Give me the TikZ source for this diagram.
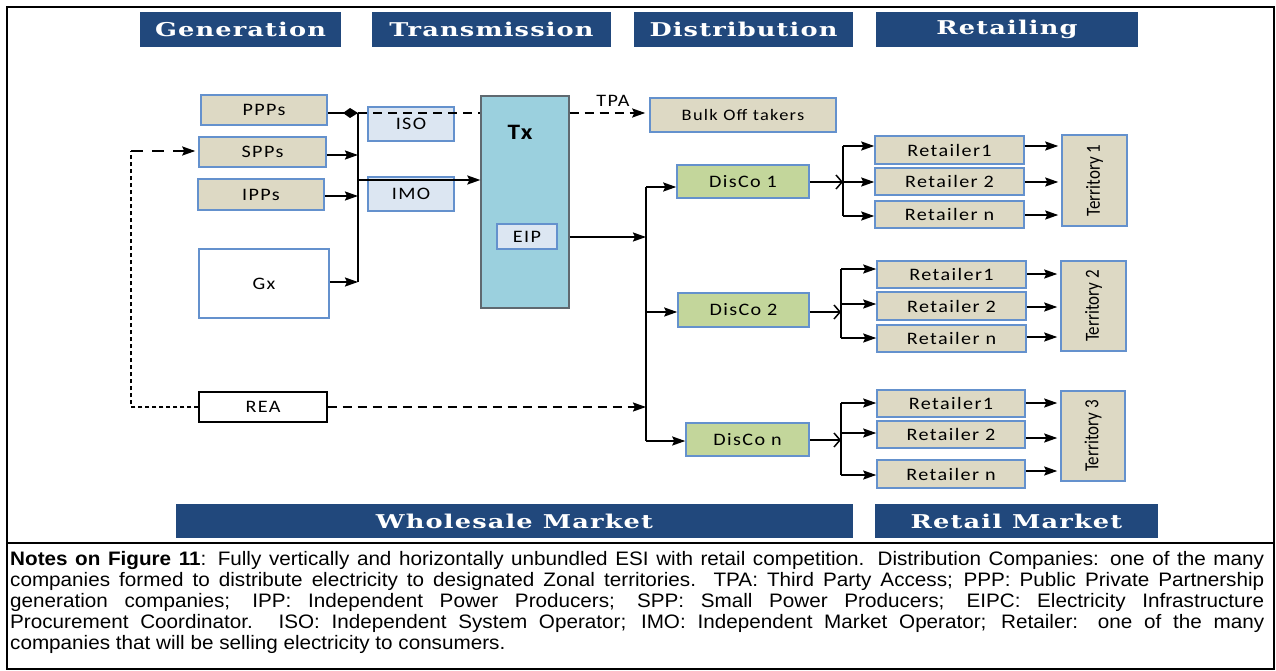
\documentclass[tikz,border=0pt]{standalone}
\usepackage{fontspec}
\usepackage{graphicx}
\usetikzlibrary{arrows.meta}
\newfontfamily\boxfont{Carlito}[FakeStretch=1.15,LetterSpace=8]
\newfontfamily\terrfont{Carlito}[FakeStretch=0.85]
\newfontfamily\headfont{DejaVu Serif}[FakeStretch=1.35,LetterSpace=6]
\newfontfamily\notefont{Liberation Sans}[FakeStretch=1.06]
\definecolor{hdrblue}{RGB}{33,72,124}
\definecolor{tanfill}{RGB}{221,217,196}
\definecolor{bordblue}{RGB}{100,145,205}
\definecolor{lightblue}{RGB}{220,230,242}
\definecolor{txfill}{RGB}{155,208,222}
\definecolor{txbord}{RGB}{95,105,112}
\definecolor{discofill}{RGB}{195,214,155}
\newcommand\bx[7]{%
  \node[#1, minimum width={(#5-#3)*1pt}, minimum height={(#6-#4)*1pt}] (#2) at ({(#3+#5)/2},{(#4+#6)/2}) {#7};}
\begin{document}
\begin{tikzpicture}[x=1pt,y=-1pt,
  box/.style={draw=bordblue, line width=1.5pt, inner sep=0pt, font=\boxfont\fontsize{17.5}{19}\selectfont},
  tanbox/.style={box, fill=tanfill},
  bluebox/.style={box, fill=lightblue},
  discobox/.style={box, fill=discofill},
  whitebox/.style={box, fill=white},
  reabox/.style={box, draw=black, line width=1.2pt, fill=white},
  txbox/.style={draw=txbord, line width=1.3pt, fill=txfill, inner sep=0pt},
  hdr/.style={fill=hdrblue, text=white, inner sep=0pt, font=\headfont\bfseries\fontsize{19}{21}\selectfont},
  bus/.style={line width=1.8pt},
  arr/.style={line width=1.8pt, -{Stealth[length=13pt,width=9pt,inset=2pt]}},
  kitearr/.style={line width=1.8pt, -{Kite[length=15pt,width=10pt,inset=7pt]}},
  openarr/.style={line width=1.5pt, -{Straight Barb[length=6pt,width=14pt]}},
  dasharr/.style={line width=1.8pt, dash pattern=on 9pt off 6pt, -{Stealth[length=13pt,width=9pt,inset=2pt]}},
  dashline/.style={line width=1.8pt, dash pattern=on 9pt off 6pt},
  dotline/.style={line width=1.6pt, dash pattern=on 4pt off 3pt},
  lbl/.style={inner sep=0pt, font=\boxfont\fontsize{17.5}{19}\selectfont}
]
\useasboundingbox (0,0) rectangle (1276,671);
% frame
\draw[line width=2.6pt] (7,7) rectangle (1274,669);
\draw[line width=2.6pt] (7,543) -- (1274,543);

% headers
\bx{hdr}{hgen}{140}{12}{341}{47}{Generation}
\bx{hdr}{htra}{372}{12}{611}{47}{Transmission}
\bx{hdr}{hdis}{634}{12}{853}{47}{Distribution}
\bx{hdr}{hret}{876}{12}{1138}{47}{Retailing}
\bx{hdr}{hwho}{176}{504}{853}{538}{Wholesale Market}
\bx{hdr}{hrem}{875}{504}{1158}{538}{Retail Market}

% generation
\bx{tanbox}{ppp}{201}{95}{327}{125}{PPPs}
\bx{tanbox}{spp}{199}{137}{326}{167}{SPPs}
\bx{tanbox}{ipp}{198}{179}{324}{210}{IPPs}
\bx{whitebox}{gx}{199}{249}{329}{318}{Gx}
\bx{reabox}{rea}{199}{392}{327}{422}{REA}

% transmission
\bx{bluebox}{iso}{368}{107}{454}{141}{ISO}
\bx{bluebox}{imo}{368}{177}{454}{211}{IMO}
\bx{txbox}{tx}{481}{96}{569}{308}{}
\node[lbl, font=\boxfont\bfseries\fontsize{22}{24}\selectfont] (txlbl) at (520,132) {Tx};
\bx{bluebox}{eip}{497}{224}{557}{249}{EIP}
\bx{tanbox}{bulk}{650}{98}{836}{132}{\fontsize{16}{18}\selectfont Bulk Off takers}
\node[lbl] (tpa) at (613,101) {TPA};

% distribution
\bx{discobox}{d1}{677}{165}{809}{198}{DisCo 1}
\bx{discobox}{d2}{678}{293}{809}{327}{DisCo 2}
\bx{discobox}{dn}{686}{423}{809}{456}{DisCo n}

% retailers
\bx{tanbox}{r11}{875}{136}{1024}{164}{Retailer1}
\bx{tanbox}{r12}{875}{168}{1024}{195}{Retailer 2}
\bx{tanbox}{r1n}{875}{201}{1024}{228}{Retailer n}
\bx{tanbox}{r21}{877}{261}{1026}{288}{Retailer1}
\bx{tanbox}{r22}{877}{292}{1026}{320}{Retailer 2}
\bx{tanbox}{r2n}{877}{325}{1026}{352}{Retailer n}
\bx{tanbox}{r31}{877}{390}{1025}{417}{Retailer1}
\bx{tanbox}{r32}{877}{421}{1025}{448}{Retailer 2}
\bx{tanbox}{r3n}{877}{460}{1025}{488}{Retailer n}

% territories
\bx{tanbox}{t1}{1062}{135}{1127}{226}{\terrfont\fontsize{20}{22}\selectfont\rotatebox{90}{Territory 1}}
\bx{tanbox}{t2}{1061}{261}{1126}{351}{\terrfont\fontsize{20}{22}\selectfont\rotatebox{90}{Territory 2}}
\bx{tanbox}{t3}{1061}{391}{1125}{481}{\terrfont\fontsize{20}{22}\selectfont\rotatebox{90}{Territory 3}}

% generation bus
\coordinate (b1a) at (358,113);
\coordinate (b1b) at (358,155);
\coordinate (b1c) at (358,196);
\coordinate (b1d) at (358,282);
\coordinate (b1m) at (358,180);
\draw[bus] (b1a) -- (b1d);
\draw[kitearr] (ppp.east |- b1a) -- (b1a);
\draw[arr] (spp.east |- b1b) -- (b1b);
\draw[arr] (ipp.east |- b1c) -- (b1c);
\draw[arr] (gx.east |- b1d) -- (b1d);
\draw[arr] (b1m) -- (tx.west |- b1m);
\draw[dashline] (b1a) -- (tx.west |- b1a);
\draw[dasharr, shorten >=4pt] (tx.east |- b1a) -- (bulk.west |- b1a);

% distribution bus
\coordinate (b2t) at (646,187);
\coordinate (b2e) at (646,237);
\coordinate (b2m) at (646,312);
\coordinate (b2r) at (646,407);
\coordinate (b2b) at (646,441);
\draw[bus] (b2t) -- (b2b);
\draw[arr] (tx.east |- b2e) -- (b2e);
\draw[arr] (b2t) -- (d1.west |- b2t);
\draw[arr] (b2m) -- (d2.west |- b2m);
\draw[arr] (b2b) -- (dn.west |- b2b);
\draw[dasharr] (rea.east |- b2r) -- (b2r);

% REA feedback to SPPs
\coordinate (lc1) at (131,407);
\coordinate (lc2) at (131,151);
\draw[dotline] (rea.west |- lc1) -- (lc1) -- (lc2);
\draw[line width=1.8pt, dash pattern=on 12pt off 9pt, -{Stealth[length=13pt,width=9pt,inset=2pt]}, shorten >=3pt] (lc2) -- (spp.west |- lc2);

% retail bus 1
\coordinate (b3t) at (843,146);
\coordinate (b3m) at (843,182);
\coordinate (b3b) at (843,216);
\draw[bus] (b3t) -- (b3b);
\draw[openarr] (d1.east |- b3m) -- (b3m);
\draw[arr] (b3t) -- (r11.west |- b3t);
\draw[arr] (b3m) -- (r12.west |- b3m);
\draw[arr] (b3b) -- (r1n.west |- b3b);
\draw[arr, shorten >=3pt] (r11.east |- b3t) -- (t1.west |- b3t);
\draw[arr, shorten >=3pt] (r12.east |- b3m) -- (t1.west |- b3m);
\draw[arr, shorten >=3pt] (r1n.east |- 0,215) -- (t1.west |- 0,215);

% retail bus 2
\coordinate (b4t) at (841,269);
\coordinate (b4m) at (841,304);
\coordinate (b4i) at (841,312);
\coordinate (b4b) at (841,338);
\draw[bus] (b4t) -- (b4b);
\draw[openarr] (d2.east |- b4i) -- (b4i);
\draw[arr] (b4t) -- (r21.west |- b4t);
\draw[arr] (b4m) -- (r22.west |- b4m);
\draw[arr] (b4b) -- (r2n.west |- b4b);
\draw[arr, shorten >=3pt] (r21.east |- 0,274) -- (t2.west |- 0,274);
\draw[arr, shorten >=3pt] (r22.east |- 0,307) -- (t2.west |- 0,307);
\draw[arr, shorten >=3pt] (r2n.east |- 0,337) -- (t2.west |- 0,337);

% retail bus 3
\coordinate (b5t) at (841,403);
\coordinate (b5m) at (841,433);
\coordinate (b5i) at (841,440);
\coordinate (b5b) at (841,475);
\draw[bus] (b5t) -- (b5b);
\draw[openarr] (dn.east |- b5i) -- (b5i);
\draw[arr] (b5t) -- (r31.west |- b5t);
\draw[arr] (b5m) -- (r32.west |- b5m);
\draw[arr] (b5b) -- (r3n.west |- b5b);
\draw[arr, shorten >=3pt] (r31.east |- 0,403) -- (t3.west |- 0,403);
\draw[arr, shorten >=3pt] (r32.east |- 0,438) -- (t3.west |- 0,438);
\draw[arr, shorten >=3pt] (r3n.east |- 0,471) -- (t3.west |- 0,471);

% notes
\node[anchor=north west, text width=1254pt, align=justify, inner sep=0pt,
      font=\notefont\fontsize{19.5}{21}\selectfont] (notes) at (10,551)
{\textbf{Notes on Figure 11}: Fully vertically and horizontally unbundled ESI with retail competition. Distribution Companies: one of the many\linebreak
companies formed to distribute electricity to designated Zonal territories. TPA: Third Party Access; PPP: Public Private Partnership\linebreak
generation companies; IPP: Independent Power Producers; SPP: Small Power Producers; EIPC: Electricity Infrastructure\linebreak
Procurement Coordinator. ISO: Independent System Operator; IMO: Independent Market Operator; Retailer: one of the many\linebreak
companies that will be selling electricity to consumers.};
\end{tikzpicture}
\end{document}
